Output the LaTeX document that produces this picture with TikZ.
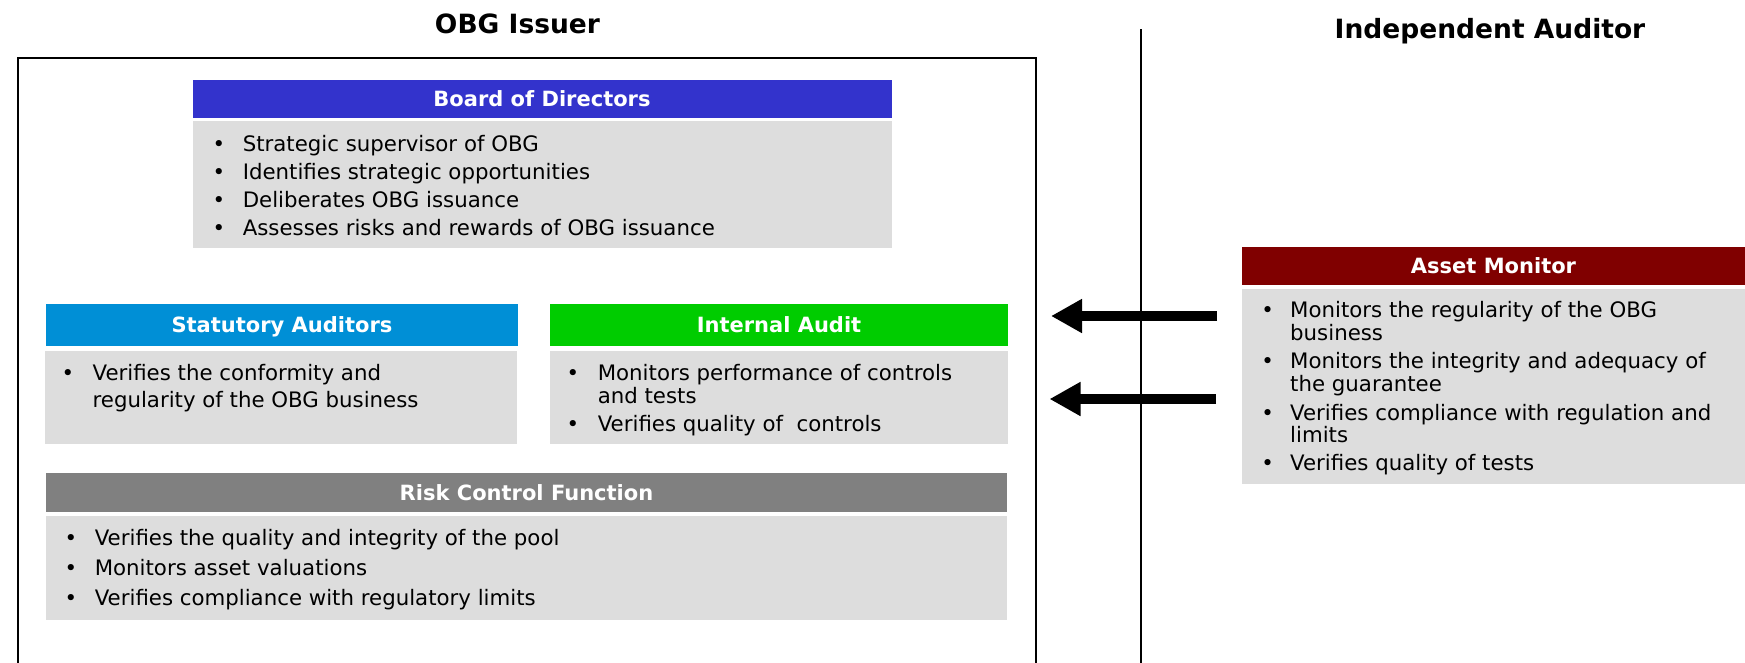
\documentclass[tikz,border=0pt]{standalone}
\usepackage{fontspec}
\setmainfont{DejaVu Sans}
\usetikzlibrary{arrows.meta}
\definecolor{boardblue}{RGB}{51,51,204}
\definecolor{statblue}{RGB}{0,143,214}
\definecolor{intgreen}{RGB}{0,204,0}
\definecolor{riskgray}{RGB}{128,128,128}
\definecolor{assetred}{RGB}{128,0,0}
\definecolor{bodygray}{RGB}{221,221,221}
\begin{document}
\begin{tikzpicture}[x=1pt,y=-1pt,
  hdr/.style={anchor=north west, inner sep=0pt, outer sep=0pt, text=white,
    text height=15.3pt, text depth=0pt,
    font=\fontsize{21}{24}\bfseries\selectfont},
  bodyb/.style={anchor=north west, inner sep=0pt, outer sep=0pt, fill=bodygray},
  txt/.style={anchor=base west, inner sep=0pt, font=\fontsize{21.3}{24}\selectfont},
  bul/.style={anchor=base, inner sep=0pt, font=\fontsize{21.3}{24}\selectfont},
  ttl/.style={anchor=base, inner sep=0pt, font=\fontsize{26.5}{30}\bfseries\selectfont},
  bigarrow/.style={line width=10pt, -{Triangle[length=31pt,width=32pt]}},
  frame/.style={line width=2pt},
]
\useasboundingbox (0,0) rectangle (1745,662);
\fill[white] (0,0) rectangle (1745,662);

% titles
\node[ttl] (t1) at (517.5,33) {OBG Issuer};
\node[ttl] (t2) at (1490,38.5) {Independent Auditor};

% frame and separator
\draw[frame] (17.5,664) -- (17.5,58) -- (1036,58) -- (1036,664);
\draw[frame] (1141,29) -- (1141,664);

% Board of Directors
\node[hdr, fill=boardblue, minimum width=699pt, minimum height=38pt] (bodh) at (192.5,80) {Board of Directors};
\node[bodyb, minimum width=699pt, minimum height=126.5pt] (bodb) at (192.5,121) {};
\node[bul] (bb1) at (219,151) {•};
\node[txt] (bt1) at (242.6,151) {Strategic supervisor of OBG};
\node[bul] (bb2) at (219,179) {•};
\node[txt] (bt2) at (242.6,179) {Identifies strategic opportunities};
\node[bul] (bb3) at (219,207) {•};
\node[txt] (bt3) at (242.6,207) {Deliberates OBG issuance};
\node[bul] (bb4) at (219,235) {•};
\node[txt] (bt4) at (242.6,235) {Assesses risks and rewards of OBG issuance};

% Statutory Auditors
\node[hdr, fill=statblue, minimum width=471.5pt, minimum height=42pt] (sah) at (46.2,304) {Statutory Auditors};
\node[bodyb, minimum width=472.5pt, minimum height=93pt] (sab) at (44.5,351) {};
\node[bul] (sb1) at (68,380) {•};
\node[txt] (st1) at (92.4,380) {Verifies the conformity and};
\node[txt] (st1b) at (92.4,407.5) {regularity of the OBG business};

% Internal Audit
\node[hdr, fill=intgreen, minimum width=458pt, minimum height=42pt] (iah) at (550,304) {Internal Audit};
\node[bodyb, minimum width=458pt, minimum height=93pt] (iab) at (550,351) {};
\node[bul] (ib1) at (573,380) {•};
\node[txt] (it1) at (597.6,380) {Monitors performance of controls};
\node[txt] (it1b) at (597.6,403) {and tests};
\node[bul] (ib2) at (573,431) {•};
\node[txt] (it2) at (597.6,431) {Verifies quality of~ controls};

% Risk Control Function
\node[hdr, fill=riskgray, minimum width=960.4pt, minimum height=38.7pt] (rch) at (46.3,473) {Risk Control Function};
\node[bodyb, minimum width=960.4pt, minimum height=103.7pt] (rcb) at (46.3,516) {};
\node[bul] (rb1) at (71,545) {•};
\node[txt] (rt1) at (94.6,545) {Verifies the quality and integrity of the pool};
\node[bul] (rb2) at (71,575) {•};
\node[txt] (rt2) at (94.6,575) {Monitors asset valuations};
\node[bul] (rb3) at (71,605) {•};
\node[txt] (rt3) at (94.6,605) {Verifies compliance with regulatory limits};

% Asset Monitor
\node[hdr, fill=assetred, minimum width=503pt, minimum height=38pt] (amh) at (1242,247) {Asset Monitor};
\node[bodyb, minimum width=503pt, minimum height=195pt] (amb) at (1242,289) {};
\node[bul] (ab1) at (1267.6,317.3) {•};
\node[txt] (at1) at (1290,317.3) {Monitors the regularity of the OBG};
\node[txt] (at1b) at (1290,340) {business};
\node[bul] (ab2) at (1267.6,368.3) {•};
\node[txt] (at2) at (1290,368.3) {Monitors the integrity and adequacy of};
\node[txt] (at2b) at (1290,391.7) {the guarantee};
\node[bul] (ab3) at (1267.6,420) {•};
\node[txt] (at3) at (1290,420) {Verifies compliance with regulation and};
\node[txt] (at3b) at (1290,442.5) {limits};
\node[bul] (ab4) at (1267.6,470.7) {•};
\node[txt] (at4) at (1290,470.7) {Verifies quality of tests};

% arrows
\coordinate (a1s) at (1217,316);
\coordinate (a1e) at (1051,316);
\coordinate (a2s) at (1216,399);
\coordinate (a2e) at (1049.5,399);
\draw[bigarrow] (a1s) -- (a1e);
\draw[bigarrow] (a2s) -- (a2e);
\end{tikzpicture}
\end{document}
